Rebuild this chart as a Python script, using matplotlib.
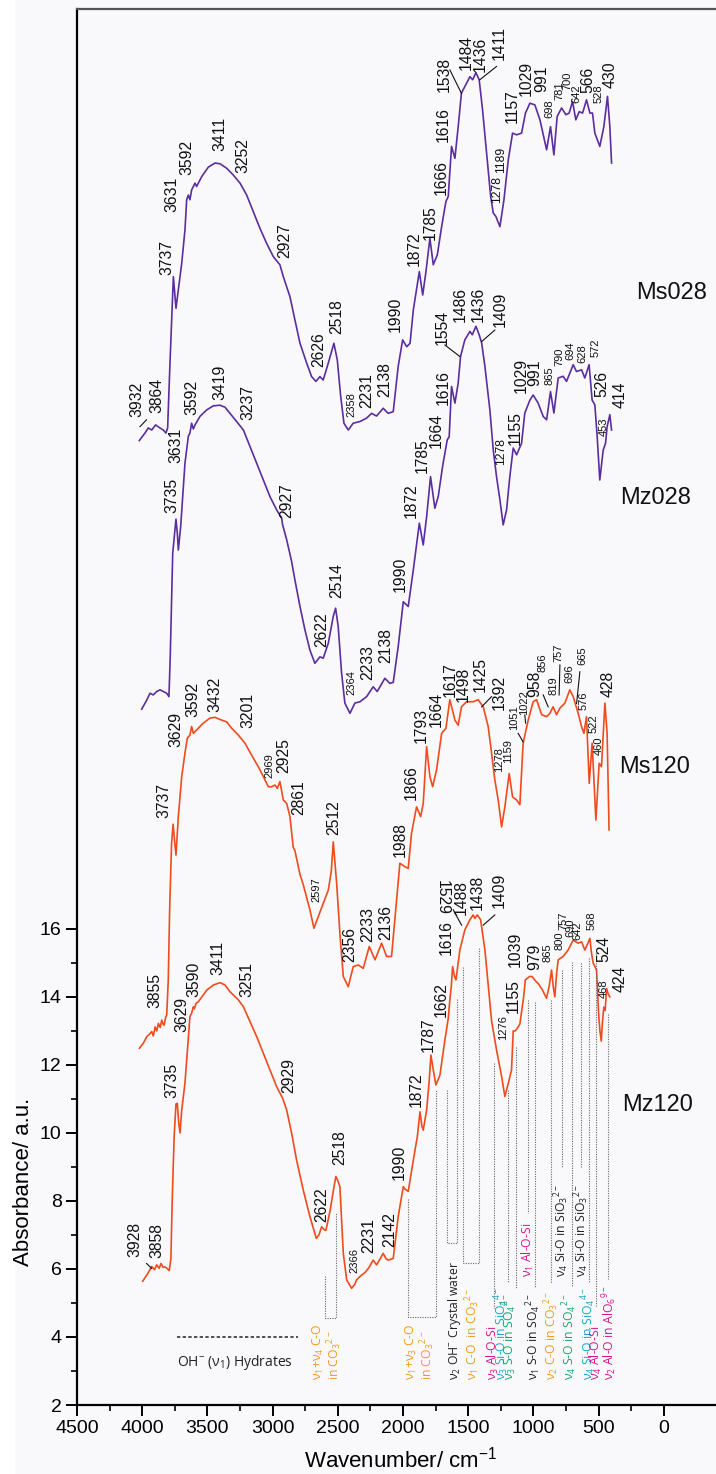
import matplotlib
matplotlib.use('Agg')
import matplotlib.pyplot as plt
from matplotlib.ticker import FixedLocator
import matplotlib.patches as mpatches

plt.rcParams['font.family'] = ['Liberation Sans', 'DejaVu Sans']
plt.rcParams['mathtext.default'] = 'regular'

# ---------------- spectra (wavenumber, absorbance) ----------------
ms028_wn = [4022,3979,3953,3927,3897,3864,3838,3818,3805,3787,3761,3741,3723,3697,3672,3659,3646,3634,3621,3595,3583,3544,3493,3442,3404,3353,3302,3250,3199,3148,3097,3046,2995,2944,2918,2867,2829,2790,2739,2701,2668,2637,2612,2573,2530,2504,2478,2453,2420,2382,2330,2279,2241,2203,2152,2114,2075,2037,2003,1972,1946,1921,1875,1849,1824,1794,1768,1737,1704,1671,1653,1628,1602,1577,1552,1519,1487,1466,1441,1416,1390,1359,1328,1308,1288,1257,1226,1193,1160,1129,1091,1061,1027,989,950,899,869,843,818,784,751,726,700,675,649,623,593,567,547,529,491,460,432,414,401]
ms028_a = [30.36,30.58,30.73,30.67,30.82,30.73,30.67,30.58,30.73,32.64,35.18,34.25,34.79,35.57,36.56,37.44,37.58,37.44,37.73,37.93,37.83,38.12,38.40,38.52,38.50,38.37,38.17,37.93,37.58,37.09,36.60,36.16,35.77,35.53,35.18,34.59,33.91,33.22,32.64,32.24,32.10,32.24,32.14,32.64,33.22,32.73,31.66,30.87,30.67,30.87,30.92,31.02,31.16,31.08,31.31,31.16,31.21,32.54,33.32,33.12,33.22,34.20,35.33,34.64,35.33,36.31,35.53,35.82,36.65,37.39,37.54,39.01,38.66,39.59,40.58,40.82,41.06,40.97,41.18,40.97,40.08,38.81,37.54,37.05,36.95,36.65,37.44,38.61,39.40,39.35,39.40,39.99,40.28,40.23,39.79,38.91,39.59,38.76,39.89,40.14,39.94,39.99,40.33,39.79,40.03,39.99,40.38,39.99,39.99,39.40,39.01,39.59,40.48,39.59,38.52]

mz028_wn = [4004,3965,3940,3915,3889,3864,3838,3812,3795,3785,3766,3741,3730,3723,3705,3672,3646,3634,3621,3608,3595,3557,3506,3455,3404,3365,3327,3276,3224,3173,3122,3071,3020,2969,2931,2923,2892,2854,2829,2790,2752,2714,2676,2637,2612,2573,2535,2517,2497,2471,2446,2407,2369,2330,2279,2229,2198,2139,2101,2075,2037,1998,1960,1921,1875,1845,1819,1789,1756,1730,1697,1661,1646,1628,1602,1577,1559,1526,1487,1469,1441,1416,1397,1372,1334,1308,1283,1257,1232,1206,1181,1155,1129,1091,1066,1027,1002,964,925,899,869,843,810,772,746,695,670,631,606,573,550,529,511,491,465,447,435,414,401]
mz028_a = [22.46,22.73,22.93,22.88,22.98,23.03,22.98,22.93,22.83,24.00,27.05,28.05,27.60,27.14,27.83,29.70,30.49,30.58,30.87,30.70,30.82,31.07,31.26,31.38,31.40,31.34,31.16,30.92,30.67,30.18,29.69,29.20,28.71,28.32,28.08,27.88,27.44,26.80,26.26,25.48,24.79,24.20,23.81,24.00,23.96,24.40,25.19,25.43,24.89,23.52,22.64,22.34,22.64,22.68,22.83,23.12,22.98,23.37,23.22,23.25,24.30,25.62,25.48,26.56,27.93,27.29,28.12,29.30,28.37,28.71,29.59,30.38,30.47,31.95,31.46,32.05,32.83,33.32,33.57,33.47,33.72,33.47,33.23,32.54,31.26,30.08,29.30,28.62,27.88,28.32,29.30,30.14,29.94,30.28,31.17,31.55,31.70,31.46,31.07,30.97,31.80,31.17,32.20,32.25,32.10,32.59,32.39,32.44,32.20,32.59,31.55,31.41,30.47,29.20,30.08,30.28,30.77,31.12,30.67]

ms120_wn = [4021,3990,3965,3945,3927,3915,3901,3888,3876,3862,3850,3840,3832,3820,3812,3800,3790,3775,3763,3752,3741,3723,3697,3672,3654,3634,3621,3608,3583,3532,3480,3442,3391,3353,3314,3263,3212,3161,3110,3071,3033,3008,2982,2964,2944,2918,2892,2867,2842,2829,2790,2765,2714,2683,2650,2612,2573,2550,2535,2509,2484,2458,2420,2382,2343,2305,2259,2215,2164,2126,2088,2049,2024,1986,1960,1935,1896,1865,1845,1819,1794,1773,1743,1704,1671,1641,1602,1577,1552,1513,1462,1424,1385,1347,1321,1296,1270,1244,1219,1186,1160,1129,1104,1079,1040,1002,976,937,899,874,849,823,797,759,721,695,657,631,613,593,572,550,521,496,478,452,435,420]
ms120_a = [12.49,12.65,12.83,12.90,12.98,12.85,13.12,13.00,13.22,13.10,13.32,13.20,13.17,13.40,13.47,14.50,16.50,18.50,19.08,18.60,18.17,19.30,20.48,21.17,21.61,21.70,21.95,21.75,21.85,22.05,22.20,22.22,22.14,22.09,21.90,21.70,21.46,21.11,20.77,20.48,20.18,20.18,20.23,20.13,20.33,19.79,19.69,19.30,18.40,18.30,17.60,17.30,16.56,16.02,16.36,16.75,17.14,17.70,18.56,17.34,15.87,14.60,14.30,14.89,14.94,14.84,15.48,15.09,15.58,15.19,15.19,16.85,17.93,17.83,17.78,18.81,19.59,19.30,19.69,21.36,20.48,20.18,20.67,21.75,21.90,22.74,22.14,21.99,22.53,22.68,22.68,22.74,22.53,21.95,21.17,20.38,19.79,19.00,19.59,20.57,19.88,19.79,19.65,21.46,22.14,22.68,22.74,22.30,22.24,22.34,22.53,22.30,22.49,22.64,23.03,22.83,22.34,21.95,21.75,22.24,20.28,21.46,19.20,20.87,20.77,22.64,21.75,18.91]

mz120_wn = [3996,3960,3927,3905,3889,3870,3856,3840,3826,3810,3793,3780,3770,3755,3741,3731,3720,3710,3697,3672,3646,3634,3621,3608,3600,3587,3569,3543,3505,3454,3403,3365,3326,3262,3224,3173,3122,3071,3020,2969,2923,2892,2854,2816,2765,2714,2680,2665,2645,2624,2600,2591,2560,2530,2515,2500,2484,2458,2432,2394,2370,2356,2330,2290,2260,2229,2203,2175,2152,2130,2114,2075,2037,1998,1985,1960,1921,1890,1870,1855,1845,1819,1800,1786,1770,1748,1717,1679,1653,1641,1630,1620,1605,1594,1564,1526,1487,1462,1449,1431,1405,1372,1321,1283,1244,1219,1190,1168,1155,1140,1129,1104,1075,1062,1030,1011,980,964,930,900,880,861,848,836,822,810,772,734,695,657,631,606,580,567,555,542,530,516,500,490,480,470,460,450,439,428,414]
mz120_a = [5.64,5.85,6.07,5.98,6.12,6.02,6.16,6.05,6.06,6.02,5.95,6.30,8.00,9.90,10.85,10.87,10.30,10.00,10.67,11.47,12.83,13.42,13.52,13.71,13.65,13.81,13.86,14.00,14.20,14.35,14.42,14.35,14.15,13.91,13.71,13.27,12.83,12.34,11.85,11.36,11.02,10.67,9.99,9.20,8.32,7.54,7.10,6.90,7.00,7.24,7.14,7.14,7.70,8.40,8.72,8.60,8.42,6.46,5.68,5.43,5.55,5.68,5.78,5.90,6.05,6.26,6.12,6.30,6.46,6.30,6.26,6.31,7.54,8.42,8.35,8.28,9.20,9.90,10.62,10.20,10.08,10.67,11.50,12.29,11.90,11.41,11.70,12.73,13.37,13.91,14.30,14.89,14.60,14.50,15.38,15.97,16.27,16.41,16.31,16.41,16.27,15.38,13.30,12.44,11.66,11.07,11.50,11.85,13.00,13.00,13.05,13.20,14.00,14.50,14.60,14.60,14.45,14.40,14.20,13.96,14.30,14.79,14.30,14.00,14.70,15.09,15.19,15.38,15.67,15.58,15.62,15.38,15.60,15.72,15.30,15.00,14.90,14.79,13.50,13.00,12.70,13.30,13.70,13.60,14.25,14.10,14.00]

sample_names = ['Ms028', 'Mz028', 'Ms120', 'Mz120']
sample_name_pos = [(-61, 34.7), (61, 28.67), (69, 20.76), (46, 10.82)]

# ---------------- peak labels: (text, wavenumber, absorbance, size) ----------------
labels_ms028 = [("3737",3812,35.23,'L'),("3631",3774,37.09,'L'),("3592",3659,38.17,'L'),("3411",3406,38.86,'L'),
    ("3252",3227,38.22,'L'),("2927",2908,35.72,'L'),("2626",2650,32.53,'L'),("2518",2509,33.50,'L'),
    ("2358",2394,31.06,'S'),("2231",2275,31.32,'L'),("2138",2143,31.64,'L'),("1990",2060,33.56,'L'),
    ("1872",1917,35.48,'L'),("1785",1794,36.26,'L'),("1666",1710,37.58,'L'),("1616",1692,39.15,'L'),
    ("1538",1687,40.62,'L'),("1484",1513,41.26,'L'),("1436",1405,41.21,'L'),("1411",1263,41.56,'L'),
    ("1278",1278,37.34,'M'),("1189",1244,38.22,'M'),("1157",1163,39.69,'L'),("1029",1053,40.48,'L'),
    ("991",938,40.62,'L'),("698",874,39.84,'S'),("781",797,40.38,'S'),("700",741,40.67,'S'),
    ("642",669,40.28,'S'),("566",580,40.58,'L'),("528",504,40.28,'S'),("430",409,40.72,'L')]
labels_mz028 = [("3932",4042,31.06,'L'),("3864",3889,31.16,'L'),("3735",3774,28.22,'L'),("3631",3741,29.69,'L'),
    ("3592",3616,31.11,'L'),("3419",3404,31.56,'L'),("3237",3187,30.97,'L'),("2927",2892,28.08,'L'),
    ("2622",2624,24.30,'L'),("2514",2509,25.72,'L'),("2364",2394,22.88,'S'),("2233",2267,23.32,'L'),
    ("2138",2131,23.81,'L'),("1990",2024,25.92,'L'),("1872",1934,28.08,'L'),("1785",1850,29.40,'L'),
    ("1664",1748,30.13,'L'),("1616",1692,31.41,'L'),("1554",1696,33.17,'L'),("1486",1564,33.86,'L'),
    ("1436",1424,33.86,'L'),("1409",1257,33.71,'L'),("1278",1244,29.64,'M'),("1155",1142,30.23,'L'),
    ("1029",1091,31.75,'L'),("991",989,31.95,'L'),("865",879,31.99,'S'),("790",797,32.54,'S'),
    ("694",715,32.73,'S'),("628",623,32.63,'S'),("572",524,32.83,'S'),("526",473,31.65,'L'),
    ("453",460,30.48,'S'),("414",332,31.31,'L')]
labels_ms120 = [("3855",3902,13.66,'L'),("3737",3833,19.25,'L'),("3629",3741,21.36,'L'),("3592",3608,22.24,'L'),
    ("3432",3442,22.39,'L'),("3201",3187,21.90,'L'),("2969",3026,20.43,'S'),("2925",2918,20.58,'L'),
    ("2861",2796,19.35,'L'),("2512",2535,18.76,'L'),("2597",2662,16.80,'S'),("2356",2407,15.03,'L'),
    ("2233",2267,15.62,'L'),("2136",2131,15.67,'L'),("1988",2024,18.12,'L'),("1866",1934,19.79,'L'),
    ("1793",1857,21.46,'L'),("1664",1742,21.95,'L'),("1617",1641,22.83,'L'),("1498",1539,22.68,'L'),
    ("1425",1411,22.98,'L'),("1392",1263,22.44,'L'),("1278",1263,20.62,'S'),("1159",1194,20.87,'S'),
    ("1051",1150,21.85,'S'),("1022",1073,22.29,'S'),("958",989,22.83,'L'),("856",930,23.56,'S'),
    ("819",843,22.88,'S'),("757",805,23.86,'S'),("696",723,23.22,'S'),("665",623,23.76,'S'),
    ("576",613,22.44,'S'),("522",537,21.75,'S'),("460",498,21.11,'S'),("428",427,22.83,'L')]
labels_mz120 = [("3928",4055,6.36,'L'),("3858",3889,6.31,'L'),("3735",3774,11.02,'L'),("3629",3697,12.98,'L'),
    ("3590",3603,14.01,'L'),("3411",3417,14.64,'L'),("3251",3194,14.01,'L'),("2929",2880,11.16,'L'),
    ("2622",2624,7.39,'L'),("2518",2489,9.06,'L'),("2366",2376,5.87,'S'),("2231",2259,6.46,'L'),
    ("2142",2100,6.65,'L'),("1990",2029,8.62,'L'),("1872",1901,10.77,'L'),("1787",1807,12.39,'L'),
    ("1662",1704,13.42,'L'),("1616",1671,15.23,'L'),("1488",1551,16.41,'L'),("1438",1431,16.56,'L'),
    ("1409",1263,16.61,'L'),("1276",1232,12.73,'S'),("1155",1155,13.53,'L'),("1039",1137,14.89,'L'),
    ("979",989,14.79,'L'),("865",895,15.03,'S'),("800",797,15.38,'S'),("757",767,15.97,'S'),
    ("690",715,15.77,'S'),("642",665,15.67,'S'),("568",554,15.97,'S'),("524",460,15.03,'L'),
    ("468",460,13.96,'S'),("424",337,14.15,'L')]
flipped_label = ("1529", 1696, 16.92)

leaders = [((1641,41.26),(1552,40.57)),((1283,41.36),(1411,40.97)),((3967,30.97),(4017,30.77)),
    ((1679,33.17),(1564,32.83)),((1296,33.61),(1397,33.27)),((1321,22.83),(1397,22.53)),
    ((1117,21.75),(1079,21.50)),((1066,22.29),(1060,22.05)),((925,22.88),(887,22.53)),
    ((797,23.76),(803,22.88)),((644,23.56),(669,22.63)),((3966,6.16),(3928,6.02)),
    ((1615,16.56),(1551,16.11)),((1296,16.41),(1385,16.11))]

# ---------------- band assignment annotations ----------------
brackets = [(2600,5.78,2515,7.64,4.57),(1965,8.05,1748,11.25,4.60),(1666,11.26,1589,13.97,6.75),(1538,14.89,1418,15.43,6.17)]
single_lines = [(1303,12.05,4.85),(1193,11.26,5.60),(1135,12.54,5.40),(1041,13.90,7.65),(989,13.86,5.43),
    (862,13.90,5.58),(784,14.79,9.00),(707,15.02,5.50),(638,15.00,9.00),(572,15.14,5.60),(521,15.3,4.90),(427,13.50,5.70)]
C_OR, C_MA, C_CY, C_GR, C_BK = '#f39a1e', '#d6158f', '#16a6c9', '#12a86b', '#222222'
band_labels = [
    ("$\\nu_1$+$\\nu_4$ C-O\nin CO$_3$$^{2-}$", 2576, 2.73, C_OR),
    ("$\\nu_1$+$\\nu_3$ C-O\nin CO$_3$$^{2-}$", 1870, 2.73, C_OR),
    ("$\\nu_2$ OH$^{-}$ Crystal water", 1602, 2.73, C_BK),
    ("$\\nu_1$ C-O  in CO$_3$$^{2-}$", 1464, 2.73, C_OR),
    ("$\\nu_3$ Al-O-Si", 1309, 2.73, C_MA),
    ("$\\nu_3$ Si-O in SiO$_4$$^{4-}$", 1244, 2.73, C_CY),
    ("$\\nu_3$ S-O in SO$_4$$^{2-}$", 1181, 2.73, C_GR),
    ("$\\nu_1$ S-O in SO$_4$$^{2-}$", 1002, 2.73, C_BK),
    ("$\\nu_1$ Al-O-Si", 1040, 5.76, C_MA),
    ("$\\nu_2$ C-O in CO$_3$$^{2-}$", 861, 2.73, C_OR),
    ("$\\nu_4$ Si-O in SiO$_3$$^{2-}$", 784, 5.76, C_BK),
    ("$\\nu_4$ S-O in SO$_4$$^{2-}$", 721, 2.73, C_GR),
    ("$\\nu_4$ Si-O in SiO$_3$$^{2-}$", 631, 5.76, C_BK),
    ("$\\nu_4$ Si-O in SiO$_4$$^{4-}$", 580, 2.73, C_CY),
    ("$\\nu_4$ Al-O-Si", 521, 2.73, C_MA),
    ("$\\nu_2$ Al-O in AlO$_6$$^{9-}$", 419, 2.73, C_MA),
]
hydrate_line = (3735, 2805, 4.0)

x_ticks = [4500, 4000, 3500, 3000, 2500, 2000, 1500, 1000, 500, 0]
y_ticks = [2, 4, 6, 8, 10, 12, 14, 16]

# ---------------- figure ----------------
BG = '#f9f9fb'
fig = plt.figure(figsize=(7.16, 14.74), dpi=100, facecolor=BG)
fig.patches.append(mpatches.Rectangle((0, 0), 14/716, 1, transform=fig.transFigure, color='white', zorder=0))
ax = fig.add_axes([77/716, 1-1405/1474, 1-77/716, (1405-9)/1474])
ax.set_facecolor(BG)
ax.set_xlim(4500, -400)
ax.set_ylim(2, 43.05)

PURPLE, ORANGE = '#5b2d9e', '#ef4b1e'
ax.plot(ms028_wn, ms028_a, color=PURPLE, lw=1.2)
ax.plot(mz028_wn, mz028_a, color=PURPLE, lw=1.2)
ax.plot(ms120_wn, ms120_a, color=ORANGE, lw=1.2)
ax.plot(mz120_wn, mz120_a, color=ORANGE, lw=1.2)

sizes = {'L': 11.3, 'M': 8.7, 'S': 8.0}
for lab in (labels_ms028, labels_mz028, labels_ms120, labels_mz120):
    for t, x, y, s in lab:
        ax.text(x, y, t, rotation=90, ha='center', va='bottom', fontsize=sizes[s], color='#111111')
ax.text(flipped_label[1], flipped_label[2], flipped_label[0], rotation=-90, ha='center', va='center',
        fontsize=sizes['L'], color='#111111')
for (x1, y1), (x2, y2) in leaders:
    ax.plot([x1, x2], [y1, y2], color='#111111', lw=0.8)

for name, (x, y) in zip(sample_names, sample_name_pos):
    ax.text(x, y, name, ha='center', va='center', fontsize=17, color='#111111')

dot = dict(color='#666666', lw=0.8, ls=(0, (1, 1.2)))
for xl, tl, xr, tr, b in brackets:
    ax.plot([xl, xl, xr, xr], [tl, b, b, tr], **dot)
for x, t, b in single_lines:
    ax.plot([x, x], [t, b], **dot)
for t, x, y, c in band_labels:
    ax.text(x, y, t, rotation=90, ha='center', va='bottom', fontsize=8.8, color=c,
            family=['Open Sans', 'DejaVu Sans'], multialignment='left', linespacing=0.95)
ax.plot([hydrate_line[0], hydrate_line[1]], [hydrate_line[2], hydrate_line[2]], color='#333333', lw=1.2, ls=(0, (2, 1.4)))
ax.text(3290, 3.26, "OH$^{-}$ ($\\nu_1$) Hydrates", ha='center', va='center', fontsize=10, color='#222222',
        family=['Open Sans', 'DejaVu Sans'])

# axes styling
ax.spines['right'].set_visible(False)
ax.spines['bottom'].set_linewidth(1.6)
ax.spines['left'].set_linewidth(1.6)
ax.spines['top'].set_linewidth(1.6)
ax.spines['top'].set_color('#555555')
ax.xaxis.set_major_locator(FixedLocator(x_ticks))
ax.xaxis.set_minor_locator(FixedLocator([v - 250 for v in x_ticks[:-1]]))
ax.yaxis.set_major_locator(FixedLocator(y_ticks))
ax.yaxis.set_minor_locator(FixedLocator([v + 1 for v in y_ticks[:-1]]))
ax.tick_params(which='major', direction='out', length=8, width=1.4, labelsize=14, pad=3)
ax.tick_params(which='minor', direction='out', length=4, width=1.2)
ax.set_xticklabels([str(v) for v in x_ticks])
ax.set_yticklabels([str(v) for v in y_ticks])

fig.text(24/716, 1-1182/1474, "Absorbance/ a.u.", rotation=90, ha='center', va='center', fontsize=16)
fig.text(401/716, 1-1460/1474, "Wavenumber/ cm$^{-1}$", ha='center', va='center', fontsize=16)

fig.savefig('out.png', dpi=100, facecolor=BG)
